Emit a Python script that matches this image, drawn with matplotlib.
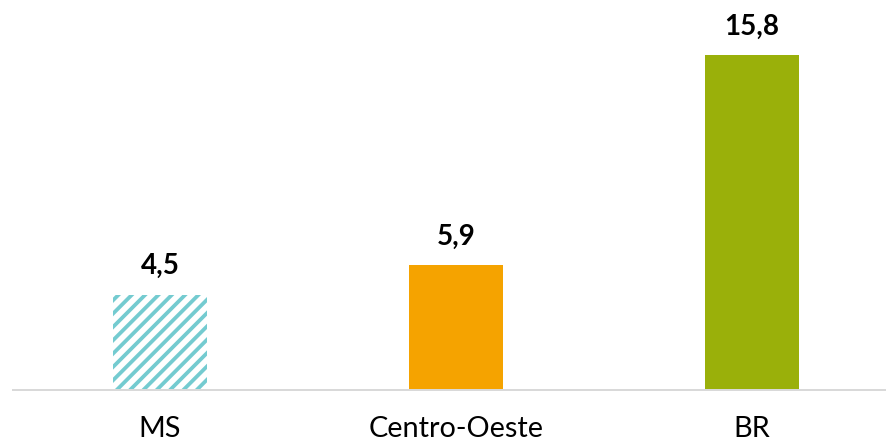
import matplotlib
matplotlib.use("Agg")
import matplotlib.pyplot as plt

categories = ["MS", "Centro-Oeste", "BR"]
values = [4.5, 5.9, 15.8]
labels = ["4,5", "5,9", "15,8"]
colors = ["white", "#F5A300", "#9AB00A"]

plt.rcParams["font.family"] = ["Lato", "DejaVu Sans"]
plt.rcParams["hatch.linewidth"] = 3.4
plt.rcParams["hatch.color"] = "#74CBD0"

dpi = 80
fig = plt.figure(figsize=(886 / dpi, 443 / dpi), dpi=dpi)
ax = fig.add_axes([13 / 886, 1 - 390 / 443, 1 - 13 / 886, 390 / 443])

x = range(len(categories))
bars = ax.bar(x, values, width=0.317, color=colors, linewidth=0)
bars[0].set_hatch("//")
bars[0].set_edgecolor("#74CBD0")
bars[0].set_linewidth(0)

# value labels above bars
for b, lab in zip(bars, labels):
    ax.annotate(lab, (b.get_x() + b.get_width() / 2, b.get_height()),
                xytext=(0, 14), textcoords="offset points",
                ha="center", va="bottom", fontsize=25, fontweight="bold")

ax.set_xlim(-0.497, 2.453)
ax.set_ylim(0, 18.4)
ax.set_xticks(list(x))
ax.set_xticklabels(categories, fontsize=26)
ax.tick_params(axis="x", length=0, pad=23)
ax.set_yticks([])
for s in ["top", "left", "right"]:
    ax.spines[s].set_visible(False)
ax.spines["bottom"].set_color("#D9D9D9")
ax.spines["bottom"].set_linewidth(1.8)

fig.savefig("out.png", dpi=dpi)
